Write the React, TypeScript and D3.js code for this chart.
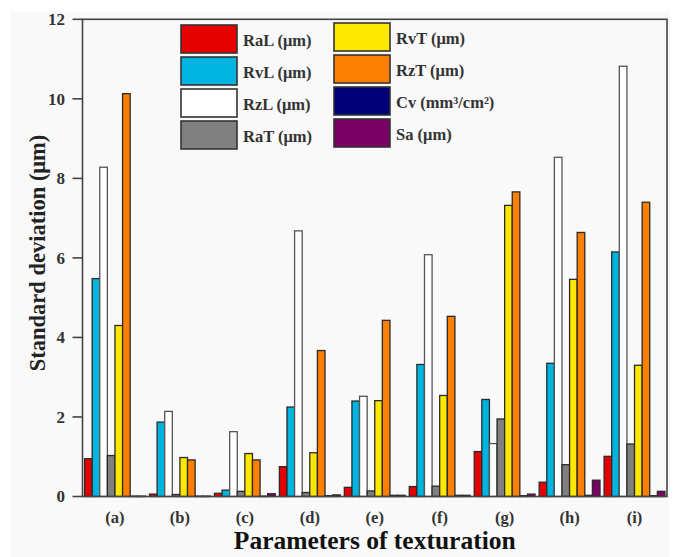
import React from 'react';
import * as d3 from 'd3';

const categories = ['(a)', '(b)', '(c)', '(d)', '(e)', '(f)', '(g)', '(h)', '(i)'];
const seriesNames = ['RaL', 'RvL', 'RzL', 'RaT', 'RvT', 'RzT', 'Cv', 'Sa'];
const seriesUnits = ['(μm)', '(μm)', '(μm)', '(μm)', '(μm)', '(μm)', '(mm³/cm²)', '(μm)'];
const seriesColors = ['#e60000', '#00b4e0', '#ffffff', '#808080', '#ffe800', '#ff7f00', '#000078', '#7a0066'];

const RaL = [0.95, 0.06, 0.08, 0.75, 0.23, 0.25, 1.13, 0.36, 1.01];
const RvL = [5.48, 1.87, 0.16, 2.25, 2.4, 3.32, 2.44, 3.35, 6.15];
const RzL = [8.28, 2.14, 1.63, 6.68, 2.52, 6.08, 1.33, 8.53, 10.82];
const RaT = [1.03, 0.05, 0.13, 0.1, 0.14, 0.26, 1.95, 0.8, 1.32];
const RvT = [4.3, 0.98, 1.08, 1.1, 2.41, 2.54, 7.32, 5.46, 3.3];
const RzT = [10.13, 0.92, 0.92, 3.67, 4.43, 4.53, 7.66, 6.64, 7.4];
const Cv = [0.01, 0.01, 0.01, 0.02, 0.03, 0.03, 0.02, 0.03, 0.02];
const Sa = [0.01, 0.01, 0.07, 0.04, 0.03, 0.03, 0.06, 0.41, 0.13];

const seriesValues = [RaL, RvL, RzL, RaT, RvT, RzT, Cv, Sa];
const yTicks = [0, 2, 4, 6, 8, 10, 12];

const W = 676, H = 557;
const L = 82.5, R = 667, T = 19.3, B = 496.5;
const FONT = '"Liberation Serif", "Times New Roman", serif';

export default function App() {
  const x0 = d3.scaleBand<string>().domain(categories).range([L, R]).paddingInner(0).paddingOuter(0);
  const x1 = d3.scaleBand<string>().domain(seriesNames).range([0, x0.bandwidth()]).paddingOuter(0.27).paddingInner(0);
  const y = d3.scaleLinear().domain([0, 12]).range([B, T]);

  const legendCols = [
    { swX: 181, txtX: 243, rows: [25, 57, 89, 121], idx: [0, 1, 2, 3] },
    { swX: 334, txtX: 396, rows: [23, 55, 87, 119], idx: [4, 5, 6, 7] },
  ];

  return (
    <svg width={W} height={H} style={{ position: 'absolute', left: 0, top: 0, background: '#ffffff' }} fontFamily={FONT}>
      <rect x={10} y={12} width={660} height={545} fill="#f9f9f9" />
      {/* bars */}
      {categories.map((c, ci) => (
        <g key={c}>
          {seriesNames.map((s, si) => {
            const v = seriesValues[si][ci];
            const yy = y(v);
            return (
              <rect
                key={s}
                x={(x0(c) as number) + (x1(s) as number)}
                y={yy}
                width={x1.bandwidth()}
                height={Math.max(B - yy, 0.5)}
                fill={seriesColors[si]}
                stroke={si === 2 ? '#555' : '#2a2a2a'}
                strokeWidth={1.3}
              />
            );
          })}
          <text x={(x0(c) as number) + x0.bandwidth() / 2} y={523} textAnchor="middle" fontWeight="bold" fontSize={16.5} fill="#333">
            {c}
          </text>
        </g>
      ))}
      {/* frame */}
      <rect x={L} y={T} width={R - L} height={B - T} fill="none" stroke="#444" strokeWidth={1.6} />
      {/* y ticks */}
      {yTicks.map((t) => (
        <g key={t}>
          <line x1={L - 10} x2={L} y1={y(t)} y2={y(t)} stroke="#444" strokeWidth={1.6} />
          <text x={65} y={y(t)} dy="0.35em" textAnchor="end" fontWeight="bold" fontSize={17} fill="#333">
            {t}
          </text>
        </g>
      ))}
      {/* axis titles */}
      <text transform={`translate(37,${(T + B) / 2 - 5}) rotate(-90)`} textAnchor="middle" dy="0.35em" fontWeight="bold" fontSize={22.5} fill="#222">
        Standard deviation (μm)
      </text>
      <text x={(L + R) / 2} y={549} textAnchor="middle" fontWeight="bold" fontSize={25.5} fill="#111">
        Parameters of texturation
      </text>
      {/* legend */}
      {legendCols.map((col, k) => (
        <g key={k}>
          {col.idx.map((si, r) => (
            <g key={si}>
              <rect x={col.swX} y={col.rows[r]} width={56} height={28} fill={seriesColors[si]} stroke="#333" strokeWidth={1.6} />
              <text x={col.txtX} y={col.rows[r] + 15} dy="0.35em" fontWeight="bold" fontSize={16.5} fill="#333">
                {seriesNames[si]} {seriesUnits[si]}
              </text>
            </g>
          ))}
        </g>
      ))}
    </svg>
  );
}
